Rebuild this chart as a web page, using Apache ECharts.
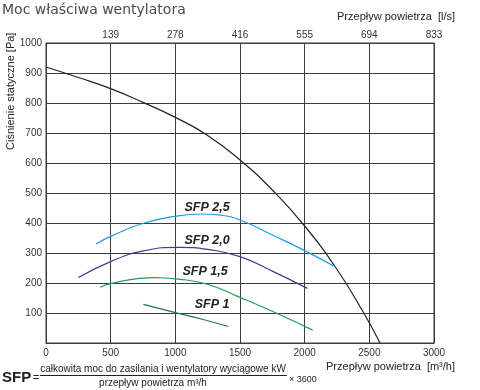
<!DOCTYPE html>
<html>
<head>
<meta charset="utf-8">
<script src="https://cdn.jsdelivr.net/npm/echarts@6/dist/echarts.min.js"></script>
<style>
html,body{margin:0;padding:0;background:#fff;}
#c{width:480px;height:390px;}
</style>
</head>
<body>
<div id="c"></div>
<script>
// ---- data (x = air flow m3/h, y = static pressure Pa) ----
var fanCurve = [[0,920],[250,885],[500,848],[750,802],[1000,752],[1250,692],[1500,610],[1750,510],[2000,390],[2250,245],[2450,105],[2583,0]];
var sfp25 = [[387,330],[508,357],[753,399],[1023,424],[1200,430],[1350,426],[1500,410],[1750,360],[2000,308],[2235,254]];
var sfp20 = [[250,218],[508,273],[753,307],[1036,319],[1250,312],[1500,288],[1758,238],[2021,182]];
var sfp15 = [[418,186],[508,199],[830,218],[1023,213],[1255,195],[1500,152],[1800,96],[2062,43]];
var sfp10 = [[753,129],[1023,99],[1200,80],[1410,55]];
var sfpNames = ['SFP 2,5','SFP 2,0','SFP 1,5','SFP 1'];
var sfpLabelAt = [[1245,450],[1245,343],[1230,237],[1284,127]];
var topTickLabels = ['', '139', '278', '416', '555', '694', '833'];

var chart = echarts.init(document.getElementById('c'), null, {renderer:'canvas'});
var gridColor = '#3c3c3c';
var tickFont = {color:'#333', fontSize:10, fontFamily:'Liberation Sans, Arial, sans-serif'};

function lbl(i){
  return {
    symbol:'circle', symbolSize:0, silent:true,
    data:[{coord:sfpLabelAt[i], value:sfpNames[i]}],
    label:{show:true, position:'inside', formatter:sfpNames[i], color:'#222', fontSize:12.5,
      fontWeight:'bold', fontStyle:'italic', fontFamily:'Liberation Sans, Arial, sans-serif'}
  };
}
function line(name, data, color, i){
  var s = {name:name, type:'line', data:data, smooth:0.5, symbol:'none',
    lineStyle:{color:color, width:1.2}, silent:true, animation:false, z:3};
  if (i !== undefined) s.markPoint = lbl(i);
  return s;
}

chart.setOption({
  animation:false,
  backgroundColor:'#fff',
  grid:{left:46, right:46, top:43, bottom:47, show:true, borderColor:gridColor, borderWidth:1},
  xAxis:[{
    type:'value', min:0, max:3000, interval:500, position:'bottom',
    axisLine:{show:true, lineStyle:{color:gridColor}}, axisTick:{show:false},
    splitLine:{show:true, lineStyle:{color:gridColor, width:1}},
    axisLabel:Object.assign({margin:5, formatter:function(v){return String(v);}}, tickFont)
  },{
    type:'value', min:0, max:3000, interval:500, position:'top',
    axisLine:{show:true, lineStyle:{color:gridColor}}, axisTick:{show:false},
    splitLine:{show:false},
    axisLabel:Object.assign({margin:3, formatter:function(v){return topTickLabels[Math.round(v/500)] || '';}}, tickFont)
  }],
  yAxis:[{
    type:'value', min:0, max:1000, interval:100,
    axisLine:{show:true, lineStyle:{color:gridColor}}, axisTick:{show:false},
    splitLine:{show:true, lineStyle:{color:gridColor, width:1}},
    axisLabel:Object.assign({margin:4, formatter:function(v){return v===0?'':String(v);}}, tickFont)
  }],
  series:[
    line('Fan', fanCurve, '#222222'),
    line('SFP 2,5', sfp25, '#1c9be0', 0),
    line('SFP 2,0', sfp20, '#3f3a98', 1),
    line('SFP 1,5', sfp15, '#1f9e52', 2),
    line('SFP 1', sfp10, '#217a45', 3)
  ],
  graphic:[
    {type:'text', left:2, top:3, style:{text:'Moc właściwa wentylatora', fill:'#4a4a4a', font:'14px "DejaVu Sans", sans-serif'}},
    {type:'text', right:25, top:11, style:{text:'Przepływ powietrza  [l/s]', fill:'#222', font:'11px "Liberation Sans", Arial, sans-serif'}},
    {type:'text', right:25, top:361, style:{text:'Przepływ powietrza  [m³/h]', fill:'#222', font:'11px "Liberation Sans", Arial, sans-serif'}},
    {type:'text', x:5, y:150, rotation:Math.PI/2, style:{text:'Ciśnienie statyczne [Pa]', fill:'#222', font:'11px "Liberation Sans", Arial, sans-serif', textVerticalAlign:'top'}},
    {type:'text', x:2, y:378, style:{text:'SFP', fill:'#222', font:'bold 15px "Liberation Sans", Arial, sans-serif', textVerticalAlign:'middle'}},
    {type:'text', x:33, y:378, style:{text:'=', fill:'#222', font:'11px "Liberation Sans", Arial, sans-serif', textVerticalAlign:'middle'}},
    {type:'text', x:163, y:369, style:{text:'całkowita moc do zasilania i wentylatory wyciągowe kW', fill:'#222', font:'10px "Liberation Sans", Arial, sans-serif', textAlign:'center', textVerticalAlign:'middle'}},
    {type:'line', shape:{x1:40, y1:375.5, x2:287, y2:375.5}, style:{stroke:'#222', lineWidth:1}},
    {type:'text', x:153, y:383, style:{text:'przepływ powietrza m³/h', fill:'#222', font:'10px "Liberation Sans", Arial, sans-serif', textAlign:'center', textVerticalAlign:'middle'}},
    {type:'text', x:289, y:380, style:{text:'× 3600', fill:'#222', font:'9px "Liberation Sans", Arial, sans-serif', textVerticalAlign:'middle'}}
  ]
});
</script>
</body>
</html>
